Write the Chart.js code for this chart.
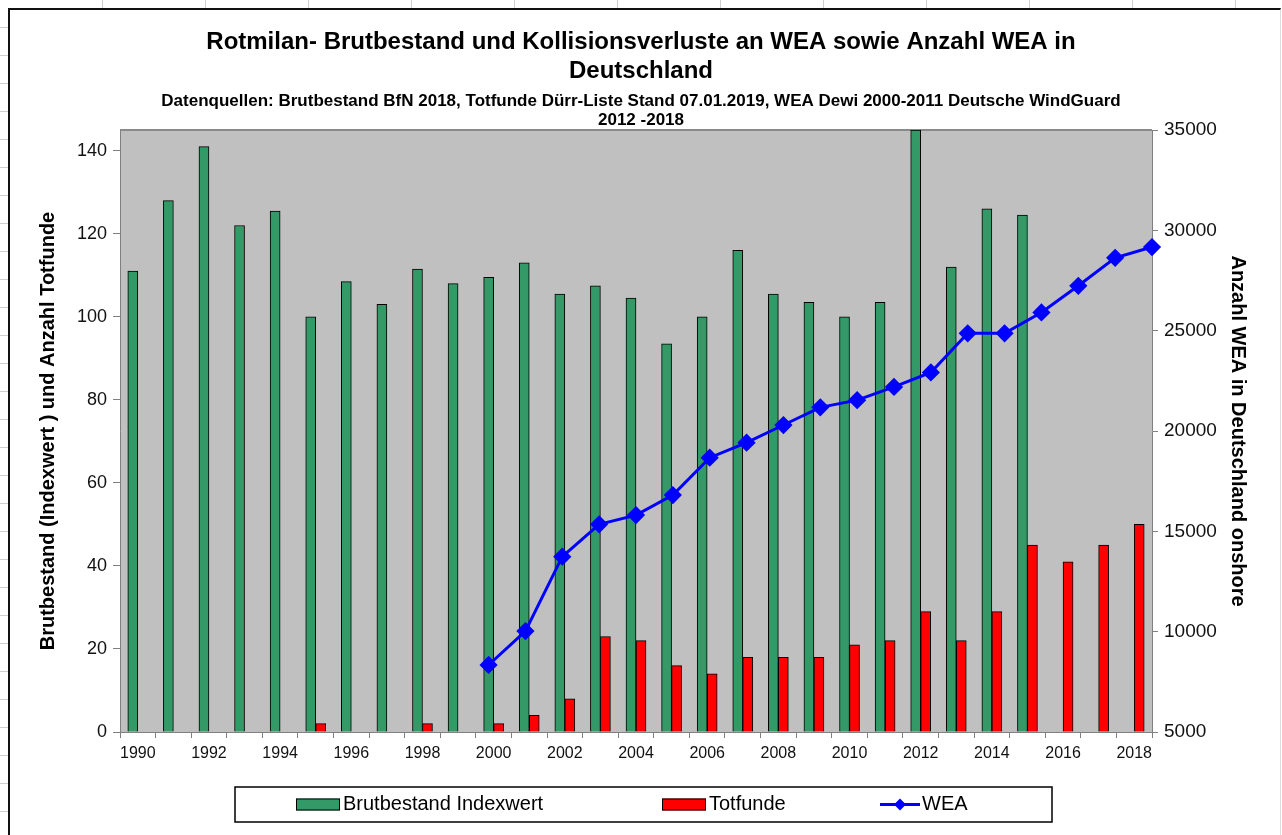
<!DOCTYPE html>
<html lang="de">
<head>
<meta charset="utf-8">
<title>Rotmilan – Brutbestand, Totfunde und WEA</title>
<script src="https://cdn.jsdelivr.net/npm/chart.js@4.4.1/dist/chart.umd.min.js"></script>
<style>
  html, body { margin: 0; padding: 0; background: #fff; }
  body { width: 1282px; height: 835px; position: relative; overflow: hidden; }
  /* faint spreadsheet cell marks outside the chart frame */
  #sheet {
    position: absolute; inset: 0;
    background:
      repeating-linear-gradient(to right, transparent 0 102px, #cfcfcf 102px 103px) top left / 100% 8px no-repeat,
      repeating-linear-gradient(to bottom, transparent 0 27px, #cfcfcf 27px 28px) top left / 8px 100% no-repeat;
  }
  #frame {
    position: absolute; left: 8px; top: 8px; right: 1px; bottom: -4px;
    border: 2px solid #111; border-right: 1px solid #ddd;
  }
  #wrap { position: absolute; left: 0; top: 0; width: 1282px; height: 835px; }
</style>
</head>
<body>
<div id="sheet"></div>
<div id="frame"></div>
<div id="wrap"><canvas id="chart" width="1282" height="835"></canvas></div>

<script>
// ── Data ──────────────────────────────────────────────────

const YEARS = ['1990','1991','1992','1993','1994','1995','1996','1997','1998','1999',
               '2000','2001','2002','2003','2004','2005','2006','2007','2008','2009',
               '2010','2011','2012','2013','2014','2015','2016','2017','2018'];

// Brutbestand Indexwert (linke Achse)
const BRUTBESTAND = [111, 128, 141, 122, 125.5, 100, 108.5, 103, 111.5, 108,
                     109.5, 113, 105.5, 107.5, 104.5, 93.5, 100, 116, 105.5, 103.5,
                     100, 103.5, 145, 112, 126, 124.5, null, null, null];

// Totfunde (linke Achse)
const TOTFUNDE = [null, null, null, null, null, 2, null, null, 2, null,
                  2, 4, 8, 23, 22, 16, 14, 18, 18, 18,
                  21, 22, 29, 22, 29, 45, 41, 45, 50];

// Anzahl WEA onshore (rechte Achse)
const WEA = [null, null, null, null, null, null, null, null, null, null,
             8340, 10030, 13740, 15350, 15810, 16810, 18670, 19420, 20300, 21180,
             21540, 22200, 22920, 24870, 24870, 25910, 27240, 28630, 29170];

const LEFT_TICKS  = { min: 0, max: 145, step: 20 };
const RIGHT_TICKS = { min: 5000, max: 35000, step: 5000 };

const TITLE = ['Rotmilan- Brutbestand und Kollisionsverluste an WEA sowie Anzahl WEA in', 'Deutschland'];
const SUBTITLE = ['Datenquellen: Brutbestand BfN 2018, Totfunde Dürr-Liste Stand 07.01.2019, WEA Dewi 2000-2011 Deutsche WindGuard',
                  '2012 -2018'];

// ── Plugins ───────────────────────────────────────────────

const FONT = "'Liberation Sans', Arial, sans-serif";

// grey plot area (Excel style)
const plotArea = {
  id: 'plotArea',
  beforeDraw(chart) {
    const { ctx, chartArea: a } = chart;
    ctx.save();
    ctx.fillStyle = '#C0C0C0';
    ctx.fillRect(a.left, a.top, a.right - a.left, a.bottom - a.top);
    ctx.strokeStyle = '#8a8a8a';
    ctx.lineWidth = 2;
    ctx.beginPath();
    ctx.moveTo(a.left, a.top);
    ctx.lineTo(a.right, a.top);
    ctx.stroke();
    ctx.restore();
  },
};

// boxed legend underneath, as in the original
const boxLegend = {
  id: 'boxLegend',
  afterDraw(chart) {
    const ctx = chart.ctx;
    const ds = chart.data.datasets;
    const box = { left: 235, top: 787, right: 1052, bottom: 822 };
    const cy = (box.top + box.bottom) / 2;
    const slots = [296, 662, 880];

    ctx.save();
    ctx.fillStyle = '#fff';
    ctx.fillRect(box.left, box.top, box.right - box.left, box.bottom - box.top);
    ctx.strokeStyle = '#000';
    ctx.lineWidth = 1.5;
    ctx.strokeRect(box.left, box.top, box.right - box.left, box.bottom - box.top);

    ctx.font = `20px ${FONT}`;
    ctx.textBaseline = 'middle';

    [ds[1], ds[2], ds[0]].forEach((d, i) => {
      const x = slots[i];
      if (d.type === 'line') {
        ctx.strokeStyle = d.borderColor;
        ctx.lineWidth = 3;
        ctx.beginPath();
        ctx.moveTo(x, cy);
        ctx.lineTo(x + 40, cy);
        ctx.stroke();
        ctx.fillStyle = d.borderColor;
        ctx.beginPath();
        ctx.moveTo(x + 20, cy - 6);
        ctx.lineTo(x + 26, cy);
        ctx.lineTo(x + 20, cy + 6);
        ctx.lineTo(x + 14, cy);
        ctx.closePath();
        ctx.fill();
        ctx.fillStyle = '#000';
        ctx.fillText(d.label, x + 42, cy);
      } else {
        ctx.fillStyle = d.backgroundColor;
        ctx.fillRect(x, cy - 6, 44, 12);
        ctx.strokeStyle = '#000';
        ctx.lineWidth = 1;
        ctx.strokeRect(x + 0.5, cy - 5.5, 43, 11);
        ctx.fillStyle = '#000';
        ctx.fillText(d.label, x + 47, cy);
      }
    });
    ctx.restore();
  },
};

// ── Chart ─────────────────────────────────────────────────

new Chart(document.getElementById('chart'), {
  data: {
    labels: YEARS,
    datasets: [
      {
        type: 'line',
        label: 'WEA',
        data: WEA,
        xAxisID: 'x2',
        yAxisID: 'y2',
        borderColor: '#0000FF',
        backgroundColor: '#0000FF',
        borderWidth: 3,
        pointStyle: 'rectRot',
        pointRadius: 7,
        pointBackgroundColor: '#0000FF',
        pointBorderColor: '#0000FF',
        tension: 0,
        order: 0,
      },
      {
        type: 'bar',
        label: 'Brutbestand Indexwert',
        data: BRUTBESTAND,
        xAxisID: 'x',
        yAxisID: 'y',
        backgroundColor: '#339966',
        borderColor: '#000',
        borderWidth: 1,
        barThickness: 10,
        order: 1,
      },
      {
        type: 'bar',
        label: 'Totfunde',
        data: TOTFUNDE,
        xAxisID: 'x',
        yAxisID: 'y',
        backgroundColor: '#FF0000',
        borderColor: '#000',
        borderWidth: 1,
        barThickness: 10,
        order: 2,
      },
    ],
  },
  options: {
    responsive: false,
    animation: false,
    layout: { padding: { left: 0, right: 0, top: 0, bottom: 50 } },
    plugins: {
      legend: { display: false },
      tooltip: { enabled: false },
      title: {
        display: true,
        text: TITLE,
        color: '#000',
        font: { family: FONT, size: 24, weight: 'bold', lineHeight: 1.21 },
        padding: { top: 27.5, bottom: 0 },
      },
      subtitle: {
        display: true,
        text: SUBTITLE,
        color: '#000',
        font: { family: FONT, size: 17, weight: 'bold', lineHeight: 1.12 },
        padding: { top: 6, bottom: 0.4 },
      },
    },
    scales: {
      x: {
        type: 'category',
        offset: true,
        grid: { offset: true, drawOnChartArea: false, tickLength: 6, color: '#808080' },
        border: { color: '#808080' },
        ticks: {
          autoSkip: false, maxRotation: 0, minRotation: 0, padding: 6,
          color: '#111', font: { family: FONT, size: 16 },
          callback: (v, i) => (i % 2 === 0 ? YEARS[i] : ''),
        },
        afterFit: s => { s.height = 53; },
      },
      x2: {
        type: 'category',
        labels: YEARS,
        display: false,
        offset: false,
      },
      y: {
        position: 'left',
        min: LEFT_TICKS.min,
        max: LEFT_TICKS.max,
        grid: { drawOnChartArea: false, tickLength: 7, color: '#808080' },
        border: { color: '#808080' },
        ticks: {
          stepSize: LEFT_TICKS.step, includeBounds: false, padding: 6,
          color: '#111', font: { family: FONT, size: 18 },
        },
        title: {
          display: true,
          text: 'Brutbestand (Indexwert ) und Anzahl Totfunde',
          color: '#000',
          font: { family: FONT, size: 20, weight: 'bold', lineHeight: 1.2 },
          padding: { top: 36, bottom: 0 },
        },
        afterFit: s => { s.width = 120; },
      },
      y2: {
        position: 'right',
        min: RIGHT_TICKS.min,
        max: RIGHT_TICKS.max,
        grid: { drawOnChartArea: false, tickLength: 6, color: '#808080' },
        border: { color: '#808080' },
        ticks: {
          stepSize: RIGHT_TICKS.step, padding: 6,
          color: '#111', font: { family: FONT, size: 19 },
          callback: v => String(v),
        },
        title: {
          display: true,
          text: 'Anzahl WEA in Deutschland onshore',
          color: '#000',
          font: { family: FONT, size: 20, weight: 'bold', lineHeight: 1.2 },
          padding: { top: 32, bottom: 0 },
        },
        afterFit: s => { s.width = 130; },
      },
    },
  },
  plugins: [plotArea, boxLegend],
});
</script>
</body>
</html>
